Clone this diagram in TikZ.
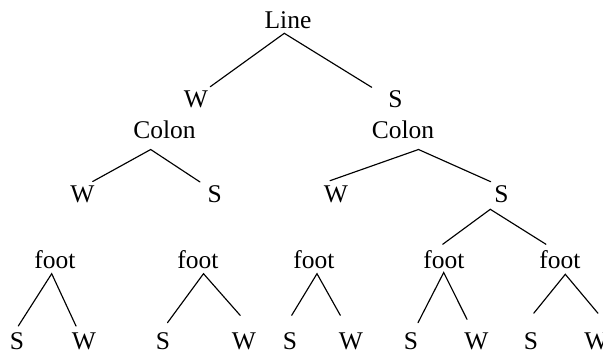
\documentclass[tikz,border=0pt]{standalone}
\usepackage{fontspec}
\setmainfont{Liberation Serif}
\begin{document}
\begin{tikzpicture}[x=1pt,y=-1pt,
  lbl/.style={inner sep=0pt,anchor=base,font=\fontsize{25.5}{30}\selectfont},
  edge/.style={line width=1.15pt,line cap=round}]
\useasboundingbox (0,0) rectangle (603,353);
% nodes
\node[lbl] (Line) at (288,28.3) {Line};
\node[lbl] (W1) at (196,107.3) {W};
\node[lbl] (S1) at (395.5,107.3) {S};
\node[lbl] (ColL) at (164.5,138.3) {Colon};
\node[lbl] (ColR) at (403,138.3) {Colon};
\node[lbl] (WL) at (82.5,202.5) {W};
\node[lbl] (SL) at (214.7,202.3) {S};
\node[lbl] (WR) at (336,202.3) {W};
\node[lbl] (SR) at (501.5,202.3) {S};
\node[lbl] (F1) at (55,268.3) {foot};
\node[lbl] (F2) at (198,268.3) {foot};
\node[lbl] (F3) at (314,268.3) {foot};
\node[lbl] (F4) at (444,268.3) {foot};
\node[lbl] (F5) at (560,268.3) {foot};
\node[lbl] (a1) at (17,349) {S};
\node[lbl] (a2) at (84,349) {W};
\node[lbl] (b1) at (163,349) {S};
\node[lbl] (b2) at (244,349) {W};
\node[lbl] (c1) at (290,349) {S};
\node[lbl] (c2) at (351,349) {W};
\node[lbl] (d1) at (411,349) {S};
\node[lbl] (d2) at (476.5,349) {W};
\node[lbl] (e1) at (531,349) {S};
\node[lbl] (e2) at (596.5,349) {W};
% edges
\draw[edge] ([shift={(14.3,-20.6)}]W1.base) -- ([shift={(-3.7,5)}]Line.base) -- ([shift={(-23.8,-20)}]S1.base);
\draw[edge] ([shift={(10.2,-21)}]WL.base) -- ([shift={(-13.8,11.2)}]ColL.base) -- ([shift={(-14.7,-20.3)}]SL.base);
\draw[edge] ([shift={(-6,-21.6)}]WR.base) -- ([shift={(15.5,11.2)}]ColR.base) -- ([shift={(-10.8,-20.6)}]SR.base);
\draw[edge] ([shift={(-1.3,-24)}]F4.base) -- ([shift={(-11.2,7)}]SR.base) -- ([shift={(-14,-24)}]F5.base);
\draw[edge] ([shift={(1.3,-23)}]a1.base) -- ([shift={(-3.3,5.4)}]F1.base) -- ([shift={(-8,-23)}]a2.base);
\draw[edge] ([shift={(4.5,-26.3)}]b1.base) -- ([shift={(5.5,5.4)}]F2.base) -- ([shift={(-3.7,-33.5)}]b2.base);
\draw[edge] ([shift={(1.7,-33.7)}]c1.base) -- ([shift={(3,5.4)}]F3.base) -- ([shift={(-10.7,-33.7)}]c2.base);
\draw[edge] ([shift={(7,-26.3)}]d1.base) -- ([shift={(-0.3,4.2)}]F4.base) -- ([shift={(-9.5,-29.7)}]d2.base);
\draw[edge] ([shift={(2.7,-35.7)}]e1.base) -- ([shift={(5.3,6)}]F5.base) -- ([shift={(1.5,-35.7)}]e2.base);
\end{tikzpicture}
\end{document}
